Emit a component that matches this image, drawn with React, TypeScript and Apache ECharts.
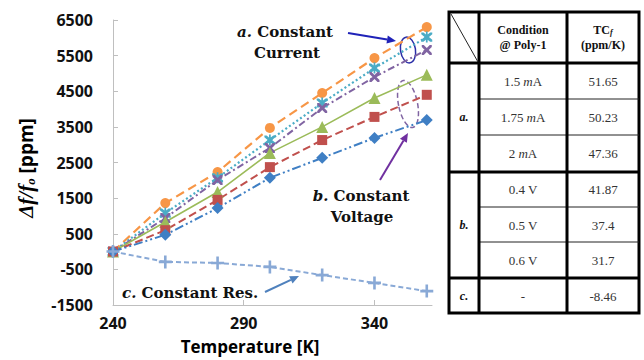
import React, { useEffect, useRef } from "react";
import * as echarts from "echarts";

// ---- data ----
const temps = [240, 260, 280, 300, 320, 340, 360];
const current15 = [0, 1360, 2230, 3470, 4450, 5430, 6300];
const current175 = [0, 1080, 2070, 3130, 4170, 5150, 6020];
const current2 = [0, 940, 2010, 2910, 4030, 4900, 5660];
const volt04 = [0, 830, 1670, 2770, 3500, 4310, 4960];
const volt05 = [0, 600, 1450, 2370, 3130, 3780, 4400];
const volt06 = [0, 470, 1220, 2070, 2630, 3190, 3690];
const constRes = [0, -290, -320, -430, -660, -880, -1110];
const xTicks = [240, 290, 340];

const tableGroups = ["a.", "b.", "c."];
const tableConditions = ["1.5 mA", "1.75 mA", "2 mA", "0.4 V", "0.5 V", "0.6 V", "-"];
const tableTC = ["51.65", "50.23", "47.36", "41.87", "37.4", "31.7", "-8.46"];

const X_PATH = "path://M0,0 L2,0 L5,3 L8,0 L10,0 L10,2 L7,5 L10,8 L10,10 L8,10 L5,7 L2,10 L0,10 L0,8 L3,5 L0,2 Z";
const STAR_PATH = "path://M0,0 L2,0 L5,3 L8,0 L10,0 L10,2 L7,5 L10,8 L10,10 L8,10 L5,7 L2,10 L0,10 L0,8 L3,5 L0,2 Z M4.2,-1 L5.8,-1 L5.8,11 L4.2,11 Z";
const PLUS_PATH = "path://M4,0 L6,0 L6,4 L10,4 L10,6 L6,6 L6,10 L4,10 L4,6 L0,6 L0,4 L4,4 Z";

function pairs(vals: number[]) {
  return temps.map((t, i) => [t, vals[i]]);
}

function arrow(x1: number, y1: number, x2: number, y2: number, color: string, w = 2) {
  const ang = Math.atan2(y2 - y1, x2 - x1);
  const L = 9, W = 4;
  const bx = x2 - L * Math.cos(ang), by = y2 - L * Math.sin(ang);
  const px = -Math.sin(ang) * W, py = Math.cos(ang) * W;
  return [
    { type: "line", shape: { x1, y1, x2: bx, y2: by }, style: { stroke: color, lineWidth: w } },
    {
      type: "polygon",
      shape: { points: [[x2, y2], [bx + px, by + py], [bx - px, by - py]] },
      style: { fill: color },
    },
  ];
}

const serifBold = "DejaVu Serif";

export default function App() {
  const ref = useRef<HTMLDivElement>(null);
  useEffect(() => {
    if (!ref.current) return;
    const chart = echarts.init(ref.current, null, { renderer: "svg" });

    const mk = (
      name: string, vals: number[], color: string, symbol: string, size: number,
      dash: any, width = 2
    ) => ({
      name, type: "line", data: pairs(vals), symbol, symbolSize: size, clip: false,
      itemStyle: { color }, lineStyle: { color, width, type: dash }, z: 3,
    });

    const series = [
      mk("1.5 mA", current15, "#F79646", "circle", 10, [9, 5], 2.2),
      mk("1.75 mA", current175, "#4BACC6", STAR_PATH, 11, [2, 2.5], 2.2),
      mk("2 mA", current2, "#8064A2", X_PATH, 10, [7, 3, 2, 3], 2),
      mk("0.4 V", volt04, "#9BBB59", "triangle", 12, "solid", 1.6),
      mk("0.5 V", volt05, "#C0504D", "rect", 10, [8, 4], 2),
      mk("0.6 V", volt06, "#3F7FC4", "diamond", 12, [9, 3, 2, 3, 2, 3], 2),
      mk("Const Res", constRes, "#89A9D6", PLUS_PATH, 13, [5, 3], 2),
    ];

    // table geometry
    const tx0 = 449, tx1 = 479, tx2 = 567, tx3 = 639;
    const ty0 = 12, tyH = 63, tyA = 172, tyB = 278, ty1 = 313;
    const rowCenters = [81, 117, 153, 189, 225, 260, 296];
    const groupCenters = [117, 225, 296];
    const thinRows = [99, 135, 207, 242];

    const tableEls: any[] = [
      { type: "rect", shape: { x: tx0, y: ty0, width: tx3 - tx0, height: ty1 - ty0 }, style: { fill: "#fff", stroke: "#000", lineWidth: 3 } },
      ...thinRows.map((y) => ({ type: "line", shape: { x1: tx1, y1: y, x2: tx3, y2: y }, style: { stroke: "#222", lineWidth: 1 } })),
      ...[tyH, tyA, tyB].map((y) => ({ type: "line", shape: { x1: tx0, y1: y, x2: tx3, y2: y }, style: { stroke: "#000", lineWidth: 3 } })),
      ...[tx1, tx2].map((x) => ({ type: "line", shape: { x1: x, y1: ty0, x2: x, y2: ty1 }, style: { stroke: "#000", lineWidth: 3 } })),
      { type: "line", shape: { x1: tx0 + 2, y1: ty0 + 2, x2: tx1 - 1, y2: tyH - 1 }, style: { stroke: "#222", lineWidth: 1 } },
      {
        type: "text", x: (tx1 + tx2) / 2, y: (ty0 + tyH) / 2,
        style: { text: "Condition\n@ Poly-1", align: "center", verticalAlign: "middle", fontFamily: "Liberation Serif", fontWeight: "bold", fontSize: 12, lineHeight: 15, fill: "#111" },
      },
      {
        type: "text", x: (tx2 + tx3) / 2, y: (ty0 + tyH) / 2,
        style: {
          text: "{b|TC}{s|f}\n{b|(ppm/K)}", align: "center", verticalAlign: "middle", fill: "#111",
          rich: {
            b: { fontFamily: "Liberation Serif", fontWeight: "bold", fontSize: 12, lineHeight: 15 },
            s: { fontFamily: "Liberation Serif", fontStyle: "italic", fontWeight: "bold", fontSize: 8, lineHeight: 15, padding: [5, 0, 0, 0] },
          },
        },
      },
      ...tableGroups.map((g, i) => ({
        type: "text", x: (tx0 + tx1) / 2, y: groupCenters[i],
        style: { text: g, align: "center", verticalAlign: "middle", fontFamily: "Liberation Serif", fontStyle: "italic", fontWeight: "bold", fontSize: 12, fill: "#111" },
      })),
      ...tableConditions.map((c, i) => {
        const parts = c.split(" ");
        const txt = parts.length > 1 && parts[1] === "mA" ? parts[0] + " {i|m}{n|A}" : c;
        return {
          type: "text", x: (tx1 + tx2) / 2, y: rowCenters[i],
          style: {
            text: txt, align: "center", verticalAlign: "middle", fontFamily: "Liberation Serif", fontSize: 13, fill: "#333",
            rich: {
              i: { fontFamily: "Liberation Serif", fontStyle: "italic", fontSize: 13, fill: "#333" },
              n: { fontFamily: "Liberation Serif", fontSize: 13, fill: "#333" },
            },
          },
        };
      }),
      ...tableTC.map((v, i) => ({
        type: "text", x: (tx2 + tx3) / 2, y: rowCenters[i],
        style: { text: v, align: "center", verticalAlign: "middle", fontFamily: "Liberation Serif", fontSize: 13, fill: "#333" },
      })),
    ];

    const annFont = { fontFamily: serifBold, fontWeight: "bold", fontSize: 15, fill: "#111" };
    const annRich = {
      i: { fontFamily: serifBold, fontWeight: "bold", fontStyle: "italic", fontSize: 15, fill: "#111" },
      r: { fontFamily: serifBold, fontWeight: "bold", fontSize: 15, fill: "#111" },
    };

    const graphic: any[] = [
      // axis titles
      {
        type: "text", x: 26, y: 168, rotation: Math.PI / 2,
        style: {
          text: "{a|Δf/f}{s|o}{b| [ppm]}", align: "center", verticalAlign: "middle", fill: "#000",
          rich: {
            a: { fontFamily: "Liberation Serif", fontStyle: "italic", fontWeight: "bold", fontSize: 21, fill: "#000" },
            s: { fontFamily: "Liberation Serif", fontStyle: "italic", fontWeight: "bold", fontSize: 13, fill: "#000", padding: [8, 0, 0, 0] },
            b: { fontFamily: "Open Sans", fontWeight: "bold", fontSize: 19, fill: "#000" },
          },
        },
      },
      {
        type: "text", x: 250, y: 346,
        style: { text: "Temperature [K]", align: "center", verticalAlign: "middle", fontFamily: "Open Sans", fontWeight: "bold", fontSize: 17, fill: "#000" },
      },
      // annotations
      { type: "text", x: 285, y: 32, style: { text: "{i|a.}{r| Constant}", align: "center", verticalAlign: "middle", ...annFont, rich: annRich } },
      { type: "text", x: 287, y: 53, style: { text: "Current", align: "center", verticalAlign: "middle", ...annFont } },
      { type: "text", x: 361, y: 196, style: { text: "{i|b.}{r| Constant}", align: "center", verticalAlign: "middle", ...annFont, rich: annRich } },
      { type: "text", x: 362, y: 217, style: { text: "Voltage", align: "center", verticalAlign: "middle", ...annFont } },
      { type: "text", x: 122, y: 293, style: { text: "{i|c.}{r| Constant Res.}", align: "left", verticalAlign: "middle", ...annFont, rich: annRich } },
      ...arrow(348, 33, 396, 41, "#1F22B8", 2),
      ...arrow(380, 180, 408, 133, "#7030A0", 2),
      ...arrow(265, 292, 299, 276, "#4F81BD", 2),
      {
        type: "ellipse", x: 408, y: 50, rotation: 0.15,
        shape: { cx: 0, cy: 0, rx: 7.5, ry: 13 },
        style: { fill: "none", stroke: "#2B2FA8", lineWidth: 1.5 },
      },
      {
        type: "ellipse", x: 408, y: 104, rotation: 0.2,
        shape: { cx: 0, cy: 0, rx: 9.5, ry: 24 },
        style: { fill: "none", stroke: "#8064A2", lineWidth: 1.5, lineDash: [5, 3] },
      },
      ...tableEls,
    ];

    const axisLabelStyle = { fontFamily: "Open Sans", fontWeight: "bold", fontSize: 16, color: "#111" };

    chart.setOption({
      animation: false,
      grid: { left: 113, right: 212, top: 20, bottom: 55 },
      xAxis: {
        type: "value", min: 240, max: 362, interval: 50,
        axisLine: { show: true, onZero: false, lineStyle: { color: "#BFBFBF", width: 1 } },
        axisTick: { show: true, inside: true, length: 5, customValues: xTicks, lineStyle: { color: "#BFBFBF" } },
        axisLabel: {
          ...axisLabelStyle, margin: 10, customValues: xTicks,
          formatter: (v: number) => ((v - 240) % 50 === 0 ? String(v) : ""),
        },
        splitLine: { show: false },
      },
      yAxis: {
        type: "value", min: -1500, max: 6500, interval: 1000,
        axisLine: { show: true, onZero: false, lineStyle: { color: "#BFBFBF", width: 1 } },
        axisTick: { show: true, inside: true, length: 5, lineStyle: { color: "#BFBFBF" } },
        axisLabel: { ...axisLabelStyle, margin: 20, formatter: (v: number) => String(v) },
        splitLine: { show: false },
      },
      series,
      graphic,
    });
    return () => chart.dispose();
  }, []);
  return <div ref={ref} style={{ position: "fixed", left: 0, top: 0, width: 644, height: 360, background: "#fff" }} />;
}
